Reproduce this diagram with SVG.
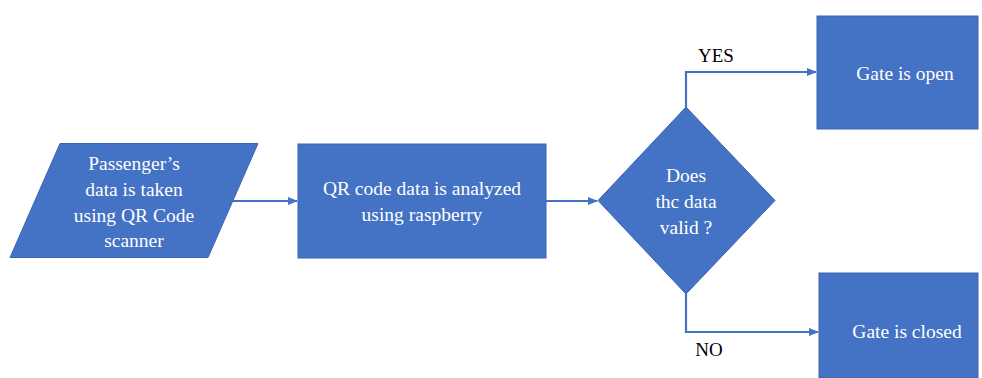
<svg xmlns="http://www.w3.org/2000/svg" width="982" height="378" viewBox="0 0 982 378">
<style>
.node{fill:#4472C4;stroke:#3B65B0;stroke-width:1}
.t{font-family:'Liberation Serif','Times New Roman','DejaVu Serif',serif;font-size:19.5px;fill:#ffffff;text-anchor:middle}
.lbl{font-family:'Liberation Serif','Times New Roman','DejaVu Serif',serif;font-size:19px;fill:#000000;text-anchor:middle}
.c{fill:none;stroke:#4472C4;stroke-width:2.2}
</style>
<defs>
<marker id="ah" markerWidth="10" markerHeight="10" refX="9" refY="5" orient="auto" markerUnits="userSpaceOnUse">
<path d="M0,1 L10,5 L0,9 Z" fill="#4472C4"/>
</marker>
</defs>
<rect width="982" height="378" fill="#ffffff"/>
<g id="connectors">
<path class="c" d="M233,201 L297,201" marker-end="url(#ah)"/>
<path class="c" d="M546,201 L597,201" marker-end="url(#ah)"/>
<path class="c" d="M686,107 L686,72 L816,72" marker-end="url(#ah)"/>
<path class="c" d="M686,294 L686,332 L818,332" marker-end="url(#ah)"/>
<text class="lbl" x="716" y="62">YES</text>
<text class="lbl" x="709" y="356">NO</text>
</g>
<g id="input">
<polygon class="node" points="60,143.5 258,143.5 208,257.5 10,257.5"/>
<text class="t" x="134" y="170">Passenger’s</text>
<text class="t" x="134" y="195.5">data is taken</text>
<text class="t" x="134" y="221.5">using QR Code</text>
<text class="t" x="134" y="247">scanner</text>
</g>
<g id="analyze">
<rect class="node" x="298" y="144" width="248" height="114"/>
<text class="t" x="422" y="195">QR code data is analyzed</text>
<text class="t" x="422" y="220.5">using raspberry</text>
</g>
<g id="decision">
<polygon class="node" points="686,107 775,200.5 686,294 598,200.5"/>
<text class="t" x="686" y="182">Does</text>
<text class="t" x="686" y="208">thc data</text>
<text class="t" x="686" y="233.5">valid ?</text>
</g>
<g id="open">
<rect class="node" x="817" y="16" width="161" height="113"/>
<text class="t" x="905" y="79.5">Gate is open</text>
</g>
<g id="closed">
<rect class="node" x="819" y="273" width="159" height="105"/>
<text class="t" x="907" y="338">Gate is closed</text>
</g>
</svg>
